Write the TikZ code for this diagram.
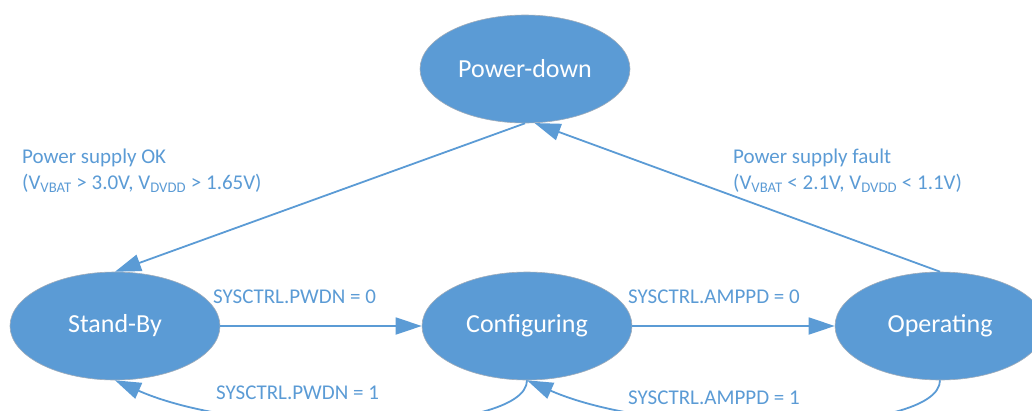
\documentclass[tikz,border=0pt]{standalone}
\usepackage{fontspec}
\setmainfont{Carlito}
\usetikzlibrary{arrows.meta,shapes.geometric}
\definecolor{sblue}{RGB}{91,155,213}
\definecolor{sedge}{RGB}{160,172,186}
\begin{document}
\begin{tikzpicture}[x=1pt,y=-1pt,
  state/.style={ellipse, fill=sblue, draw=sedge, line width=0.6pt,
    minimum width=210pt, minimum height=108pt, inner sep=0pt,
    text=white, font=\fontsize{26}{30}\selectfont},
  conn/.style={draw=sblue, line width=1.8pt, -{Triangle[length=26pt,width=17pt]}},
  lbl/.style={text=sblue, font=\fontsize{21}{26}\selectfont, anchor=west,
    inner sep=0pt, align=left}]
\useasboundingbox (0,0) rectangle (1032,410);
\clip (0,0) rectangle (1032,410);
\node[state] (pd) at (525,69) {Power-down};
\node[state] (sb) at (115,326) {Stand-By};
\node[state] (cf) at (527,326) {Configuring};
\node[state] (op) at (940,326) {Operating};
\draw[conn] (pd.south) -- (sb.north);
\draw[conn] (op.north) -- (pd.-80);
\draw[conn] (sb.east) -- (cf.west);
\draw[conn] (cf.east) -- (op.west);
\draw[conn] (cf.south) .. controls (527,435) and (250,440) .. (sb.south);
\draw[conn] (op.south) .. controls (940,435) and (663,440) .. (cf.south);
\node[lbl] (l1) at (22,171) {Power supply OK\\(V\textsubscript{VBAT} > 3.0V, V\textsubscript{DVDD} > 1.65V)};
\node[lbl] (l2) at (733,171) {Power supply fault\\(V\textsubscript{VBAT} < 2.1V, V\textsubscript{DVDD} < 1.1V)};
\node[lbl] (l3) at (213,297) {SYSCTRL.PWDN = 0};
\node[lbl] (l4) at (628,297) {SYSCTRL.AMPPD = 0};
\node[lbl] (l5) at (216,393) {SYSCTRL.PWDN = 1};
\node[lbl] (l6) at (628,398) {SYSCTRL.AMPPD = 1};
\end{tikzpicture}
\end{document}
